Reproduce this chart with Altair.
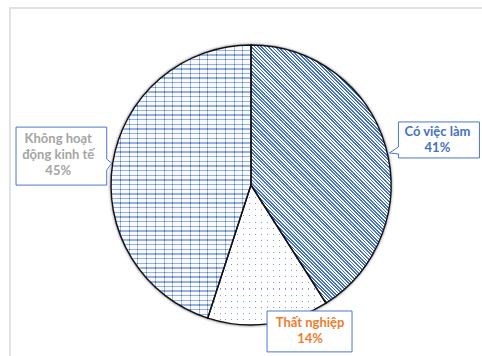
import math
import altair as alt
import pandas as pd

# ---- data ----
categories = ["Có việc làm", "Thất nghiệp", "Không hoạt động kinh tế"]
shares = [41, 14, 45]
label_names = ["Có việc làm", "Thất nghiệp", "Không hoạt\nđộng kinh tế"]
text_colors = ["#4472C4", "#ED7D31", "#A5A5A5"]

df = pd.DataFrame({
    "idx": list(range(len(categories))),
    "cat": categories,
    "share": shares,
    "label_name": label_names,
})

# ---- layout / style constants ----
CX, CY, R = 251, 185, 140
BLUE = "#4472C4"
BORDER = "#4A78CC"
TOTAL = float(sum(shares))
CLEAR = "rgba(255,255,255,0)"
SUB = 16  # sub-wedges used to keep the fine hatch crisp


def angle_bbox(a0, a1):
    xs, ys = [CX], [CY]
    steps = 400
    for k in range(steps + 1):
        a = a0 + (a1 - a0) * k / steps
        xs.append(CX + R * math.sin(a))
        ys.append(CY - R * math.cos(a))
    return min(xs), min(ys), max(xs) - min(xs), max(ys) - min(ys)


def slice_angles(i):
    a0 = sum(shares[:i]) / TOTAL * 2 * math.pi
    a1 = sum(shares[: i + 1]) / TOTAL * 2 * math.pi
    return a0, a1


def stripes(n, fg, bg, frac):
    stops = []
    for k in range(n):
        a = k / n
        b = (k + frac) / n
        c = (k + 1) / n
        stops += [(a, fg), (b, fg), (b, bg), (c, bg)]
    return [alt.GradientStop(offset=round(o, 6), color=c) for o, c in stops]


def diag_hatch(x0, y0, w, h, period, frac, fg, bg):
    """globally aligned '\\' hatch inside a bbox"""
    P = period * math.sqrt(2)
    lam = (w + h) / (w * w + h * h)
    dmin = x0 - y0 - h
    dmax = dmin + w + h

    def t_of(d):
        return min(1.0, max(0.0, (d - dmin) / (w + h)))

    stops = []
    q0 = math.floor(dmin / P) - 1
    q1 = math.ceil(dmax / P) + 1
    for q in range(q0, q1):
        a, b, c = q * P, (q + frac) * P, (q + 1) * P
        if c < dmin or a > dmax:
            continue
        stops += [(t_of(a), fg), (t_of(b), fg), (t_of(b), bg), (t_of(c), bg)]
    gs = [alt.GradientStop(offset=round(o, 6), color=col) for o, col in stops]
    return alt.LinearGradient(gradient="linear", x1=0, y1=1, x2=lam * w, y2=1 - lam * h, stops=gs)


def horiz_lines(i, period, fg, bg, frac):
    _, _, w, h = angle_bbox(*slice_angles(i))
    n = int(round(h / period))
    return alt.LinearGradient(gradient="linear", x1=0, y1=0, x2=0, y2=1,
                              stops=stripes(n, fg, bg, frac))


def vert_lines(i, period, fg, bg, frac):
    _, _, w, h = angle_bbox(*slice_angles(i))
    n = int(round(w / period))
    return alt.LinearGradient(gradient="linear", x1=0, y1=0, x2=1, y2=0,
                              stops=stripes(n, fg, bg, frac))


def callout(points):
    # custom symbol path: 1 unit = 100 px when size = 40000
    return "M" + " L".join(f"{x / 100:.4f},{y / 100:.4f}" for x, y in points) + " Z"


base = (
    alt.Chart(df)
    .transform_joinaggregate(total="sum(share)")
    .transform_window(cum="sum(share)", sort=[alt.SortField("idx", order="ascending")])
    .transform_calculate(
        t0="(datum.cum - datum.share) / datum.total",
        t1="datum.cum / datum.total",
        mid="(datum.cum - datum.share / 2) / datum.total",
    )
    .transform_calculate(
        tx=f"{CX} + {R} * sin(2 * PI * datum.mid)",
        ty=f"{CY} - {R} * cos(2 * PI * datum.mid)",
        label="datum.label_name + '\\n' + datum.share + '%'",
    )
)

theta_scale = alt.Scale(domain=[0, 1], range=[0, 2 * math.pi])
arc_enc = dict(
    theta=alt.Theta("t0:Q", scale=theta_scale),
    theta2=alt.Theta2("t1:Q"),
    x=alt.value(CX),
    y=alt.value(CY),
)
pos_enc = dict(
    x=alt.X("tx:Q", scale=None, axis=None),
    y=alt.Y("ty:Q", scale=None, axis=None),
)

frame = base.mark_rect(fillOpacity=0, stroke="#D9D9D9", strokeWidth=1.5).encode(
    x=alt.value(10), x2=alt.value(900), y=alt.value(8), y2=alt.value(900)
).transform_filter("datum.idx == 0")

shadow2 = base.mark_arc(outerRadius=R + 3, fill="#000000", opacity=0.07, strokeWidth=0).encode(**arc_enc)
shadow1 = base.mark_arc(outerRadius=R + 1.6, fill="#000000", opacity=0.18, strokeWidth=0).encode(**arc_enc)

# employed: fine diagonal hatch, drawn as sub-wedges over an average-colour base
slice0_base = base.mark_arc(outerRadius=R, strokeWidth=0, fill="#A9BEE6").encode(**arc_enc).transform_filter("datum.idx == 0")
slice0_parts = []
a0, a1 = slice_angles(0)
for j in range(SUB):
    b0 = a0 + (a1 - a0) * j / SUB
    b1 = a0 + (a1 - a0) * (j + 1) / SUB
    x0, y0, w, h = angle_bbox(b0, b1)
    grad = diag_hatch(x0, y0, w, h, 2.4, 0.5, BLUE, "#FFFFFF")
    slice0_parts.append(
        base.mark_arc(outerRadius=R, strokeWidth=0, fill=grad)
        .encode(theta=alt.Theta("s0:Q", scale=theta_scale), theta2=alt.Theta2("s1:Q"),
                x=alt.value(CX), y=alt.value(CY))
        .transform_filter("datum.idx == 0")
        .transform_calculate(
            s0=f"datum.t0 + (datum.t1 - datum.t0) * {j} / {SUB}",
            s1=f"datum.t0 + (datum.t1 - datum.t0) * {j + 1} / {SUB}",
        )
    )

# unemployed: sparse dots (vertical lines masked by horizontal white bands)
slice1 = base.mark_arc(outerRadius=R, strokeWidth=0,
                       fill=vert_lines(1, 6.0, "#7F9BD8", "#FFFFFF", 0.17)).encode(**arc_enc).transform_filter("datum.idx == 1")
slice1m = base.mark_arc(outerRadius=R, strokeWidth=0,
                        fill=horiz_lines(1, 6.0, CLEAR, "#FFFFFF", 0.17)).encode(**arc_enc).transform_filter("datum.idx == 1")
# not economically active: bricks
slice2 = base.mark_arc(outerRadius=R, strokeWidth=0,
                       fill=horiz_lines(2, 4.6, BLUE, "#F3F6FD", 0.3)).encode(**arc_enc).transform_filter("datum.idx == 2")
slice2v = base.mark_arc(outerRadius=R, strokeWidth=0, opacity=0.45,
                        fill=vert_lines(2, 8.5, BLUE, "#FFFFFF", 0.14)).encode(**arc_enc).transform_filter("datum.idx == 2")

outline = base.mark_arc(outerRadius=R, fillOpacity=0, stroke="#111111", strokeWidth=1.4).encode(**arc_enc)

# callout shapes relative to the slice-edge anchor (px)
shape0 = callout([(13, -24), (94, -24), (94, 12), (13, 12), (13, 8), (4, 7), (13, 1)])
shape1 = callout([(-1.5, -12.9), (83.5, -12.9), (83.5, 28), (-1.5, 28)])
shape2 = callout([(-96.7, -36), (-6, -36), (-6, -4), (-1, 0), (-6, 7), (-6, 22), (-96.7, 22)])
shapes = [shape0, shape1, shape2]
# offsets of the first text line centre from the anchor
text_offsets = [(52, -14), (41.5, -1), (-54.5, -24)]

boxes = []
texts = []
for i in range(len(categories)):
    boxes.append(
        base.mark_point(shape=shapes[i], size=40000, filled=True, fill="white", stroke=BORDER,
                        strokeWidth=1, opacity=1, fillOpacity=1)
        .encode(**pos_enc)
        .transform_filter(f"datum.idx == {i}")
    )
    texts.append(
        base.mark_text(font="Lato", fontSize=13, fontWeight="bold", lineBreak="\n", lineHeight=16,
                       align="center", baseline="middle", dx=text_offsets[i][0], dy=text_offsets[i][1],
                       color=text_colors[i])
        .encode(text="label:N", **pos_enc)
        .transform_filter(f"datum.idx == {i}")
    )

chart = alt.layer(
    frame, shadow2, shadow1, slice0_base, *slice0_parts, slice1, slice1m, slice2, slice2v, outline,
    *boxes, *texts
).properties(
    width=482, height=356, autosize=alt.AutoSizeParams(type="none"), padding=0, background="white"
).configure_view(stroke=None)

chart.save("out.html", embed_options={"renderer": "svg", "actions": False})
